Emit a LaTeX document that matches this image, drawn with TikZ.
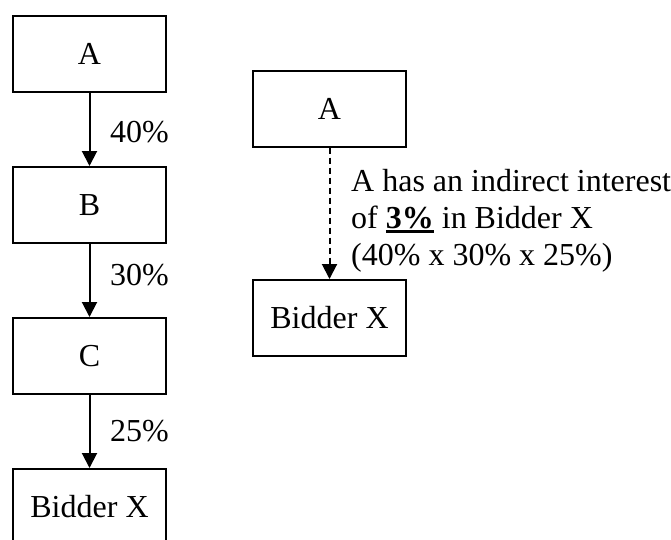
\documentclass[tikz,border=0pt]{standalone}
\usepackage{fontspec}
\setmainfont{Liberation Serif}
\usetikzlibrary{arrows.meta}
% thick underline drawn just below the baseline
\newcommand{\thickul}[1]{\leavevmode\vtop{\hbox{#1}\kern1.2pt\hrule height 3pt}}
\begin{document}
\begin{tikzpicture}[x=1pt,y=-1pt,
  every node/.style={font=\fontsize{32}{37}\selectfont},
  entity/.style={draw, line width=2pt, minimum width=153pt, minimum height=76pt, inner sep=0pt},
  holding/.style={line width=2pt, -{Triangle[length=15pt,width=15pt]}},
  indirect/.style={holding, dash pattern=on 6pt off 4pt},
  pct/.style={anchor=base west, inner sep=0pt}]
  \clip (0,0) rectangle (671,539);
  \useasboundingbox (0,0) rectangle (671,539);

  % direct ownership chain
  \node[entity] (a) at (89.5,54) {A};
  \node[entity] (b) at (89.5,205) {B};
  \node[entity] (c) at (89.5,356) {C};
  \node[entity] (x) at (89.5,507) {Bidder X};

  \draw[holding] (a.south) -- (b.north);
  \draw[holding] (b.south) -- (c.north);
  \draw[holding] (c.south) -- (x.north);

  \node[pct] (l1) at (110,142) {40\%};
  \node[pct] (l2) at (110,285) {30\%};
  \node[pct] (l3) at (110,441) {25\%};

  % resulting indirect interest
  \node[entity] (ra) at (329.5,108.5) {A};
  \node[entity] (rx) at (329.5,318) {Bidder X};
  \draw[indirect] (ra.south) -- (rx.north);

  \node[pct] (t1) at (351,191) {A has an indirect interest};
  \node[pct] (t2) at (351,228) {of \thickul{\textbf{3\%}} in Bidder X};
  \node[pct] (t3) at (351,265) {(40\% x 30\% x 25\%)};
\end{tikzpicture}
\end{document}
